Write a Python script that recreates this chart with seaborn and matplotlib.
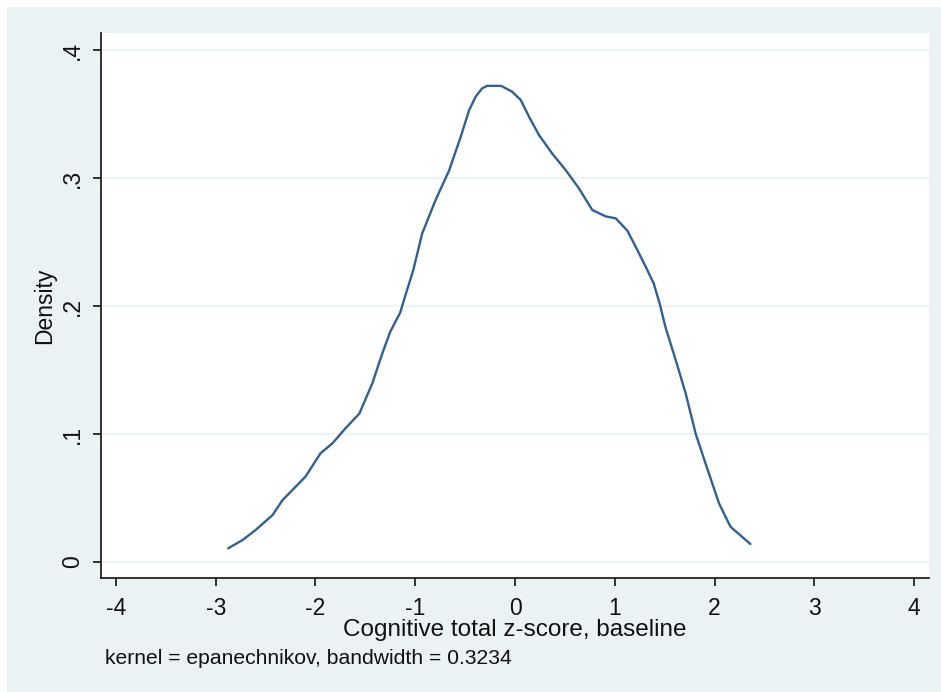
import numpy as np
import pandas as pd
import matplotlib
matplotlib.use("Agg")
import matplotlib.pyplot as plt
import seaborn as sns

# kernel density estimate (Stata kdensity output)
zscore = [-2.875, -2.73, -2.60, -2.43, -2.33, -2.10, -1.95, -1.83, -1.70, -1.56,
          -1.43, -1.33, -1.25, -1.15, -1.10, -1.02, -0.93, -0.795, -0.66, -0.545,
          -0.46, -0.395, -0.33, -0.28, -0.14, -0.03, 0.057, 0.14, 0.24, 0.374,
          0.51, 0.64, 0.775, 0.91, 1.01, 1.125, 1.21, 1.31, 1.39, 1.45,
          1.51, 1.61, 1.71, 1.81, 1.91, 2.045, 2.16, 2.36]
density = [0.0107, 0.0172, 0.025, 0.0367, 0.0484, 0.0667, 0.0849, 0.0927, 0.1044, 0.116,
           0.1396, 0.163, 0.18, 0.195, 0.208, 0.228, 0.2568, 0.283, 0.306, 0.332,
           0.353, 0.3635, 0.370, 0.372, 0.372, 0.3675, 0.361, 0.348, 0.3336, 0.319,
           0.306, 0.292, 0.275, 0.270, 0.2685, 0.259, 0.2463, 0.2307, 0.2177, 0.202,
           0.183, 0.158, 0.132, 0.1005, 0.077, 0.0458, 0.0276, 0.014]

xticks = [-4, -3, -2, -1, 0, 1, 2, 3, 4]
yticks = [0, 0.1, 0.2, 0.3, 0.4]
ytick_labels = ['0', '.1', '.2', '.3', '.4']

df = pd.DataFrame({'z': zscore, 'density': density})

sns.set_theme(style='white')
plt.rcParams['font.family'] = ['Liberation Sans', 'DejaVu Sans']

bg = '#eaf2f3'
fig = plt.figure(figsize=(9.41, 6.92), dpi=100, facecolor='white')
# graph region (Stata s2color) with thin white margin top/left
region = plt.Rectangle((7 / 941, 0), 1, 1 - 7 / 692, transform=fig.transFigure,
                       facecolor=bg, edgecolor='none', zorder=-10)
fig.add_artist(region)

ax = fig.add_axes([101 / 941, 1 - 578 / 692, 828 / 941, 545 / 692])
ax.set_facecolor('white')

sns.lineplot(data=df, x='z', y='density', sort=False, ax=ax,
             color='#34608c', linewidth=1.7)

ax.set_xlim(-4.15, 4.15)
ax.set_ylim(-0.0125, 0.4133)
ax.set_xticks(xticks)
ax.set_xticklabels([str(t) for t in xticks])
ax.set_yticks(yticks)
ax.set_yticklabels(ytick_labels, rotation=90, va='center')

for y in yticks:
    ax.axhline(y, color=bg, linewidth=1.2, zorder=0)

for side in ['top', 'right']:
    ax.spines[side].set_visible(False)
for side in ['left', 'bottom']:
    ax.spines[side].set_color('#222222')
    ax.spines[side].set_linewidth(1.3)

ax.tick_params(axis='both', direction='out', length=6, width=1.3, color='#222222',
               labelsize=16.5, labelcolor='#111111', left=True, bottom=True)
ax.tick_params(axis='x', pad=8)
ax.tick_params(axis='y', pad=6)

ax.set_xlabel('Cognitive total z-score, baseline', fontsize=17.5, color='#111111', labelpad=-1)
ax.set_ylabel('Density', fontsize=16.5, color='#111111', labelpad=4)

fig.text(105 / 941, 1 - 659 / 692, 'kernel = epanechnikov, bandwidth = 0.3234',
         fontsize=15.2, color='#111111', va='center', ha='left')

fig.savefig('out.png', dpi=100, facecolor=fig.get_facecolor())
